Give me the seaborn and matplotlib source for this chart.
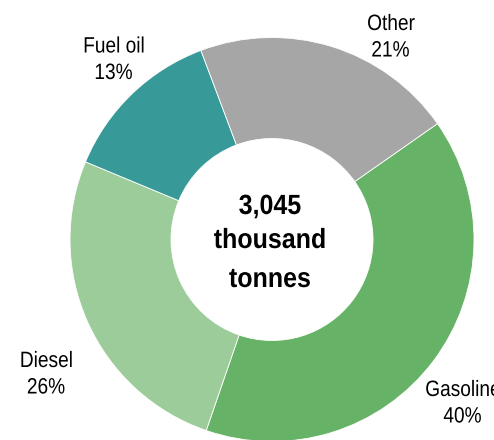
import matplotlib
matplotlib.use("Agg")
import matplotlib.pyplot as plt
import seaborn as sns
from matplotlib.patheffects import AbstractPathEffect
from matplotlib.transforms import Affine2D

# ---- data ----
categories = ["Gasoline", "Diesel", "Fuel oil", "Other"]
shares = [40, 26, 13, 21]
pct_labels = ["40%", "26%", "13%", "21%"]
center_lines = ["3,045", "thousand", "tonnes"]
colors = ["#66b266", "#9ccc99", "#389a98", "#a6a6a6"]

sns.set_theme(style="white")
plt.rcParams["font.family"] = ["Liberation Sans", "DejaVu Sans"]


class Condense(AbstractPathEffect):
    """Narrow the glyphs horizontally around the centre of each text line."""

    def __init__(self, sx):
        super().__init__()
        self.sx = sx

    def draw_path(self, renderer, gc, tpath, affine, rgbFace=None):
        ext = tpath.get_extents()
        cx = (ext.x0 + ext.x1) / 2.0
        t = Affine2D().translate(-cx, 0).scale(self.sx, 1.0).translate(cx, 0)
        renderer.draw_path(gc, tpath, t + affine, rgbFace)


W, H = 494, 440
fig = plt.figure(figsize=(W / 100, H / 100), dpi=100)
ax = fig.add_axes([0, 0, 1, 1])

cx_px, cy_px, r_px = 272.0, 239.5, 202.0

ax.pie(
    shares,
    colors=colors,
    startangle=35,
    counterclock=False,
    radius=1.0,
    wedgeprops=dict(width=0.5, edgecolor="white", linewidth=0.6),
)
ax.set_xlim(-cx_px / r_px, (W - cx_px) / r_px)
ax.set_ylim(-(H - cy_px) / r_px, cy_px / r_px)
ax.set_aspect("equal", adjustable="box")
ax.axis("off")


def px_text(px, py, s, size, weight="normal", sx=0.86):
    fig.text(px / W, 1 - py / H, s, ha="center", va="baseline",
             fontsize=size, fontweight=weight, color="black",
             path_effects=[Condense(sx)])


# label layout (pixel centres / baselines)
label_pos = {
    "Gasoline": (463, 396),
    "Diesel": (46.5, 367),
    "Fuel oil": (114, 52.5),
    "Other": (391, 30),
}
line_gap = 26.5
for name, pct in zip(categories, pct_labels):
    x, y = label_pos[name]
    px_text(x, y, name, 16)
    px_text(x - 0.5, y + line_gap, pct, 16)

center_baselines = [214, 248, 287]
for line, by in zip(center_lines, center_baselines):
    px_text(270, by, line, 20, weight="bold", sx=0.9)

fig.savefig("out.png", dpi=100)
